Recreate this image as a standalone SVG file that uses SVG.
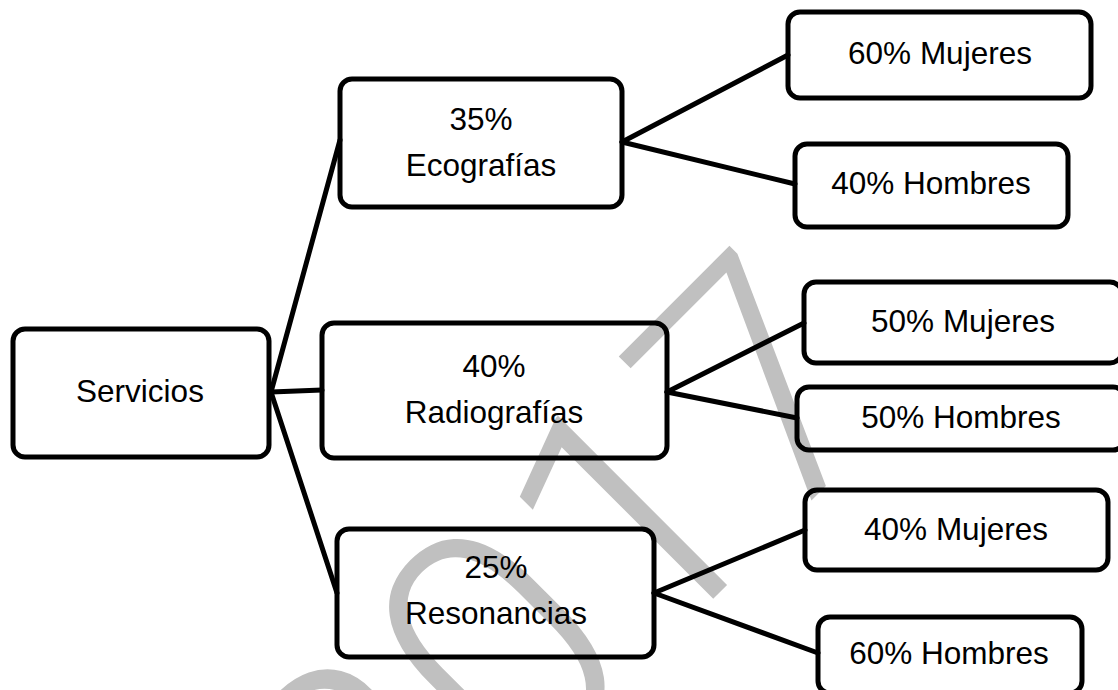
<svg xmlns="http://www.w3.org/2000/svg" width="1118" height="690" viewBox="0 0 1118 690">
<style>
.box{fill:none;stroke:#000;stroke-width:5}
.lbl{font-family:"Liberation Sans",Arial,sans-serif;font-size:31.5px;fill:#000;text-anchor:middle}
.wm{font-family:Roboto,"Liberation Sans",sans-serif;font-weight:300;font-size:335px;fill:#c0c0c0}
#connectors line{stroke:#000;stroke-width:5;stroke-linecap:round}
</style>
<rect width="1118" height="690" fill="#fff"/>
<g id="watermark"><text class="wm" transform="translate(384 928) rotate(-45)">2017</text></g>
<g id="connectors">
<line x1="271" y1="392" x2="340" y2="140"/>
<line x1="271" y1="392" x2="322" y2="390"/>
<line x1="271" y1="392" x2="337" y2="593"/>
<line x1="622" y1="142" x2="788" y2="55"/>
<line x1="622" y1="142" x2="795" y2="184"/>
<line x1="667" y1="392" x2="804" y2="323"/>
<line x1="667" y1="392" x2="797" y2="418"/>
<line x1="654" y1="593" x2="805" y2="530"/>
<line x1="654" y1="593" x2="818" y2="653"/>
</g>
<g id="servicios"><rect class="box" x="13" y="329" width="256" height="128" rx="12"/><text class="lbl" x="140" y="402">Servicios</text></g>
<g id="ecografias"><rect class="box" x="340" y="79" width="282" height="128" rx="12"/><text class="lbl" x="481" y="130">35%</text><text class="lbl" x="481" y="176">Ecografías</text></g>
<g id="radiografias"><rect class="box" x="322" y="323" width="345" height="135" rx="12"/><text class="lbl" x="494" y="377">40%</text><text class="lbl" x="494" y="423">Radiografías</text></g>
<g id="resonancias"><rect class="box" x="337" y="529" width="317" height="128" rx="12"/><text class="lbl" x="496" y="578">25%</text><text class="lbl" x="496" y="624">Resonancias</text></g>
<g id="eco-mujeres"><rect class="box" x="788" y="12" width="303" height="86" rx="12"/><text class="lbl" x="940" y="64">60% Mujeres</text></g>
<g id="eco-hombres"><rect class="box" x="795" y="144" width="273" height="83" rx="12"/><text class="lbl" x="931" y="194">40% Hombres</text></g>
<g id="rad-mujeres"><rect class="box" x="804" y="282" width="318" height="81" rx="12"/><text class="lbl" x="963" y="332">50% Mujeres</text></g>
<g id="rad-hombres"><rect class="box" x="797" y="387" width="328" height="63" rx="12"/><text class="lbl" x="961" y="428">50% Hombres</text></g>
<g id="res-mujeres"><rect class="box" x="805" y="490" width="303" height="80" rx="12"/><text class="lbl" x="956" y="540">40% Mujeres</text></g>
<g id="res-hombres"><rect class="box" x="818" y="617" width="264" height="76" rx="12"/><text class="lbl" x="949" y="664">60% Hombres</text></g>
</svg>
